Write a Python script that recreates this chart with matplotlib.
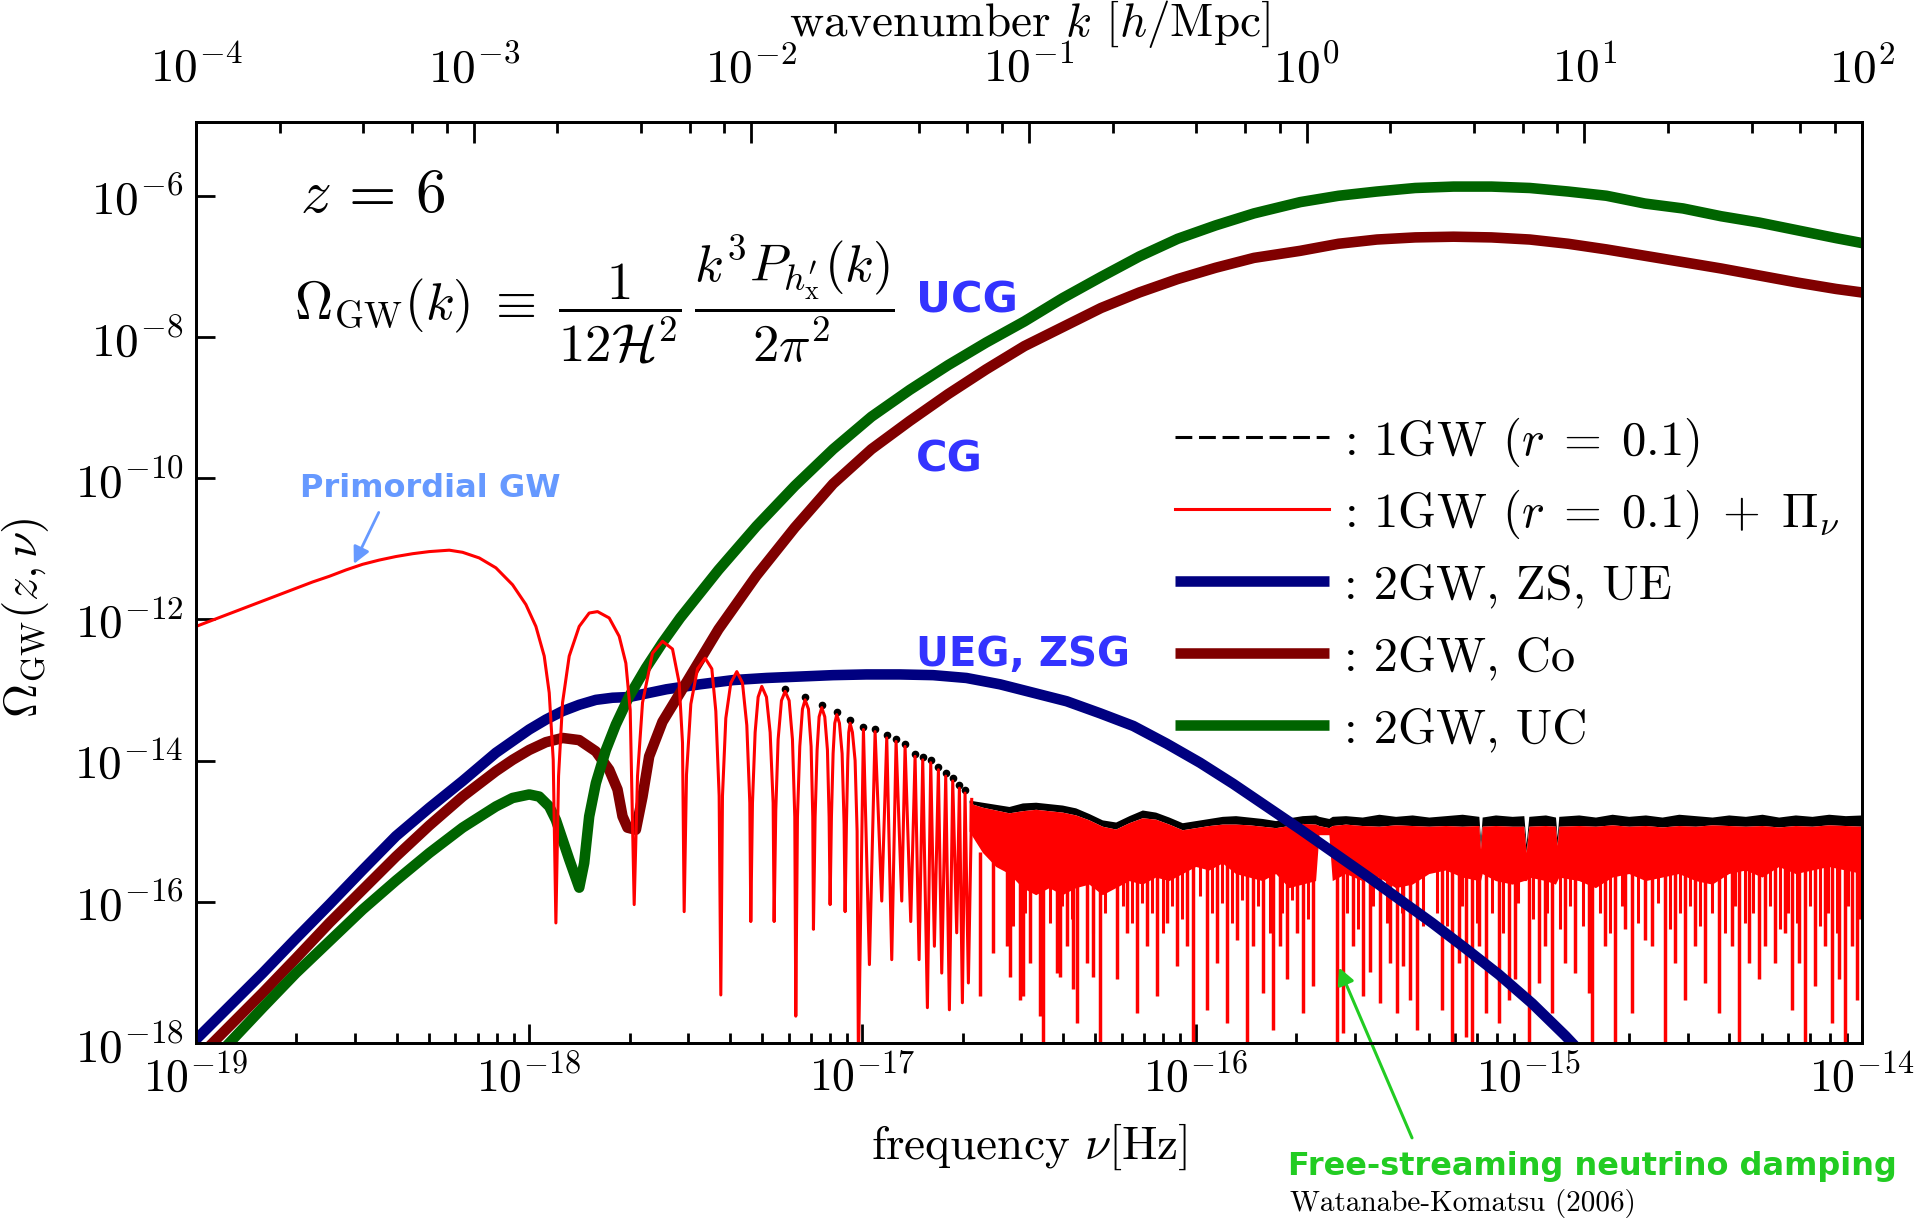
import numpy as np
import matplotlib.pyplot as plt
from matplotlib.ticker import LogLocator, NullLocator

# ---- data (log10 values) ----
# 2GW, ZS, UE (blue)
blue_lognu = [-19.0, -18.9, -18.8, -18.7, -18.6, -18.5, -18.4, -18.3, -18.2, -18.1, -18.0,
              -17.95, -17.9, -17.85, -17.8, -17.75, -17.7, -17.588, -17.488, -17.388, -17.288,
              -17.188, -17.088, -16.988, -16.888, -16.788, -16.688, -16.587, -16.487, -16.387,
              -16.287, -16.187, -16.087, -15.987, -15.887, -15.787, -15.687, -15.587, -15.487,
              -15.387, -15.29, -15.19, -15.09, -14.99, -14.89, -14.85]
blue_logom = [-17.95, -17.48, -17.01, -16.52, -16.04, -15.55, -15.07, -14.67, -14.29, -13.89, -13.56,
              -13.42, -13.30, -13.21, -13.14, -13.11, -13.10, -12.99, -12.92, -12.86, -12.83,
              -12.81, -12.79, -12.78, -12.78, -12.79, -12.83, -12.92, -13.04, -13.16,
              -13.33, -13.51, -13.76, -14.03, -14.33, -14.65, -14.97, -15.30, -15.63,
              -15.97, -16.30, -16.66, -17.03, -17.44, -17.90, -18.10]

# 2GW, Co (maroon)
co_lognu = [-18.95, -18.8, -18.7, -18.6, -18.5, -18.4, -18.3, -18.2, -18.1, -18.05, -18.0,
            -17.95, -17.9, -17.85, -17.8, -17.76, -17.735, -17.72, -17.705, -17.68, -17.66,
            -17.64, -17.6, -17.547, -17.432, -17.318, -17.203, -17.088, -16.973, -16.858,
            -16.743, -16.629, -16.514, -16.399, -16.284, -16.169, -16.054, -15.94, -15.825,
            -15.686, -15.571, -15.456, -15.341, -15.226, -15.112, -14.997, -14.882, -14.767,
            -14.652, -14.537, -14.423, -14.308, -14.193, -14.078, -14.0]
co_logom = [-18.0, -17.29, -16.80, -16.30, -15.83, -15.36, -14.92, -14.51, -14.15, -13.99, -13.85,
            -13.74, -13.68, -13.71, -13.87, -14.13, -14.41, -14.79, -14.95, -14.98, -14.51,
            -13.94, -13.45, -13.04, -12.14, -11.38, -10.70, -10.08, -9.59, -9.19,
            -8.81, -8.46, -8.13, -7.86, -7.59, -7.37, -7.18, -7.02, -6.88,
            -6.78, -6.68, -6.62, -6.59, -6.58, -6.59, -6.62, -6.68, -6.76,
            -6.85, -6.94, -7.03, -7.13, -7.23, -7.32, -7.37]

# 2GW, UC (green)
uc_lognu = [-18.9, -18.8, -18.7, -18.6, -18.5, -18.4, -18.3, -18.2, -18.1, -18.05, -18.0,
            -17.97, -17.94, -17.92, -17.9, -17.88, -17.85, -17.835, -17.82, -17.8, -17.77,
            -17.74, -17.7, -17.65, -17.6, -17.547, -17.432, -17.318, -17.203, -17.088, -16.973,
            -16.858, -16.743, -16.629, -16.514, -16.399, -16.284, -16.169, -16.054, -15.94,
            -15.825, -15.686, -15.571, -15.456, -15.341, -15.226, -15.112, -14.997, -14.882,
            -14.767, -14.652, -14.537, -14.423, -14.308, -14.193, -14.078, -14.0]
uc_logom = [-18.0, -17.50, -17.01, -16.56, -16.11, -15.70, -15.31, -14.95, -14.65, -14.53, -14.48,
            -14.51, -14.65, -14.84, -15.12, -15.40, -15.80, -15.45, -14.79, -14.32, -13.85,
            -13.49, -13.09, -12.69, -12.33, -11.98, -11.30, -10.68, -10.11, -9.59, -9.13,
            -8.75, -8.40, -8.08, -7.78, -7.45, -7.15, -6.86, -6.61, -6.42,
            -6.25, -6.09, -6.00, -5.94, -5.89, -5.87, -5.87, -5.89, -5.94,
            -6.00, -6.11, -6.18, -6.29, -6.38, -6.49, -6.60, -6.67]

# 1GW (r=0.1) + Pi_nu (red), resolved part: plateau and the first oscillations
red_lognu = [
    -19.0, -18.9, -18.8, -18.75, -18.7, -18.65, -18.6, -18.55, -18.5, -18.45, -18.4, -18.35,
    -18.3, -18.24, -18.2, -18.15, -18.1, -18.05, -18.01, -17.98, -17.955, -17.94, -17.928, -17.92,
    -17.912, -17.90, -17.88, -17.85, -17.82, -17.795, -17.76, -17.73, -17.71, -17.697, -17.685,
    -17.675, -17.66, -17.63, -17.60, -17.57, -17.55, -17.54, -17.535,
    -17.528, -17.515, -17.495, -17.472, -17.452, -17.44, -17.43, -17.425,
    -17.42, -17.41, -17.395, -17.377, -17.36, -17.347, -17.338, -17.335,
    -17.33, -17.322, -17.313, -17.302, -17.288, -17.277, -17.268, -17.265,
    -17.26, -17.253, -17.243, -17.232, -17.22, -17.21, -17.203, -17.20,
    -17.195, -17.188, -17.18, -17.172, -17.162, -17.154, -17.149, -17.147,
    -17.142, -17.136, -17.13, -17.122, -17.113, -17.105, -17.10, -17.097,
    -17.093, -17.088, -17.083, -17.077, -17.069, -17.061, -17.055, -17.052,
    -17.048, -17.044, -17.041, -17.037, -17.03, -17.022, -17.016, -17.012,
    -16.997, -16.979, -16.962, -16.942, -16.927, -16.912, -16.899, -16.882, -16.872, -16.855,
    -16.842, -16.83, -16.819, -16.805, -16.795, -16.784, -16.772, -16.762, -16.75, -16.739,
    -16.729, -16.717, -16.709, -16.70, -16.692, -16.682, -16.672]
red_logom = [
    -12.10, -11.92, -11.74, -11.65, -11.56, -11.47, -11.39, -11.30, -11.22, -11.16, -11.11, -11.07,
    -11.04, -11.02, -11.05, -11.13, -11.27, -11.51, -11.79, -12.10, -12.52, -13.04, -13.99, -16.30,
    -14.22, -13.18, -12.52, -12.10, -11.91, -11.89, -11.98, -12.24, -12.62, -13.28, -16.04,
    -14.22, -13.18, -12.48, -12.31, -12.42, -12.90, -13.75, -16.14,
    -14.2, -13.2, -12.7, -12.55, -12.7, -13.3, -14.5, -17.32,
    -14.5, -13.4, -12.9, -12.74, -12.9, -13.5, -14.6, -16.28,
    -14.6, -13.6, -13.1, -12.95, -13.1, -13.6, -14.6, -16.28,
    -14.7, -13.7, -13.15, -13.02, -13.15, -13.7, -14.8, -17.62,
    -14.8, -13.8, -13.27, -13.14, -13.27, -13.8, -14.8, -16.39,
    -14.8, -13.85, -13.38, -13.25, -13.38, -13.85, -14.8, -16.04,
    -14.8, -13.9, -13.47, -13.35, -13.47, -13.9, -14.9, -16.14,
    -14.9, -14.0, -13.6, -13.47, -13.6, -14.0, -15.0, -18.3,
    -13.56, -16.89, -13.59, -15.99, -13.68, -16.82, -13.73, -15.99, -13.80, -16.28,
    -13.94, -16.82, -13.99, -17.50, -14.03, -16.63, -14.13, -17.01, -14.22, -17.53,
    -14.29, -16.44, -14.39, -17.43, -14.46, -17.15, -14.55]

# 1GW (r=0.1) without damping (black), visible only just above the red peaks
black_peak_lognu = [-17.232, -17.172, -17.122, -17.077, -17.037, -16.997, -16.962, -16.927, -16.899,
                    -16.872, -16.842, -16.819, -16.795, -16.772, -16.75, -16.729, -16.709, -16.692]
black_peak_logom = [-12.99, -13.10, -13.21, -13.31, -13.43, -13.52, -13.55, -13.64, -13.69,
                    -13.76, -13.90, -13.95, -13.99, -14.09, -14.18, -14.25, -14.35, -14.42]

# unresolved high-frequency part: red band (top / solid floor) and black envelope
band_lognu = [-16.68, -16.64, -16.60, -16.56, -16.52, -16.48, -16.44, -16.40, -16.36, -16.32,
              -16.28, -16.24, -16.20, -16.16, -16.12, -16.08, -16.04, -16.00, -15.96, -15.92,
              -15.88, -15.84, -15.80, -15.76, -15.72, -15.68, -15.64, -15.63, -15.60, -15.59,
              -15.55, -15.50, -15.45, -15.40, -15.35, -15.30, -15.25, -15.20, -15.15, -15.145,
              -15.14, -15.10, -15.05, -15.015, -15.008, -15.0, -14.95, -14.92, -14.915, -14.91,
              -14.85, -14.80, -14.75, -14.70, -14.65, -14.60, -14.55, -14.50, -14.45, -14.40,
              -14.35, -14.30, -14.25, -14.20, -14.15, -14.10, -14.05, -14.00]
band_top = [-14.60, -14.66, -14.70, -14.74, -14.71, -14.69, -14.71, -14.73, -14.77, -14.84,
            -14.93, -14.97, -14.88, -14.81, -14.83, -14.90, -14.98, -14.95, -14.92, -14.90,
            -14.90, -14.91, -14.93, -14.95, -14.92, -14.89, -14.90, -14.92, -14.95, -14.92,
            -14.90, -14.92, -14.93, -14.91, -14.92, -14.93, -14.92, -14.93, -14.92, -15.25,
            -14.93, -14.92, -14.93, -14.93, -15.30, -14.93, -14.92, -14.93, -15.20, -14.93,
            -14.92, -14.93, -14.91, -14.93, -14.92, -14.94, -14.92, -14.93, -14.91, -14.92,
            -14.93, -14.92, -14.94, -14.92, -14.93, -14.91, -14.92, -14.93]
black_top = [-14.56, -14.59, -14.62, -14.65, -14.60, -14.59, -14.61, -14.63, -14.67, -14.75,
             -14.84, -14.87, -14.78, -14.70, -14.73, -14.80, -14.88, -14.85, -14.82, -14.79,
             -14.78, -14.80, -14.82, -14.85, -14.81, -14.78, -14.77, -14.79, -14.82, -14.79,
             -14.78, -14.80, -14.76, -14.79, -14.77, -14.80, -14.78, -14.76, -14.79, -15.12,
             -14.80, -14.77, -14.79, -14.78, -15.18, -14.79, -14.77, -14.80, -15.08, -14.79,
             -14.77, -14.80, -14.76, -14.79, -14.77, -14.80, -14.76, -14.78, -14.80, -14.77,
             -14.79, -14.76, -14.80, -14.77, -14.79, -14.76, -14.78, -14.77]
band_floor = [-15.0, -15.3, -15.5, -15.6, -15.8, -15.9, -15.8, -15.9, -15.8, -15.75,
              -15.9, -15.8, -15.7, -15.75, -15.65, -15.7, -15.6, -15.5, -15.55, -15.45,
              -15.6, -15.65, -15.7, -15.6, -15.8, -15.75, -15.7, -15.05, -15.05, -15.7,
              -15.6, -15.7, -15.65, -15.8, -15.75, -15.6, -15.55, -15.65, -15.7, -15.7,
              -15.6, -15.7, -15.75, -15.7, -15.7, -15.65, -15.7, -15.75, -15.7, -15.65,
              -15.7, -15.8, -15.65, -15.6, -15.7, -15.65, -15.6, -15.7, -15.75, -15.6,
              -15.55, -15.65, -15.5, -15.6, -15.55, -15.5, -15.55, -15.6]

# long downward spikes below the solid band (position, lowest value)
spike_lognu = [-16.647, -16.607, -16.567, -16.557, -16.527, -16.517, -16.497, -16.467, -16.457,
               -16.417, -16.407, -16.387, -16.367, -16.357, -16.327, -16.307, -16.287, -16.237,
               -16.207, -16.177, -16.147, -16.117, -16.087, -16.057, -16.027, -16.007, -15.967,
               -15.937, -15.907, -15.877, -15.847, -15.827, -15.797, -15.767, -15.747, -15.727,
               -15.697, -15.677, -15.647, -15.577, -15.557, -15.527, -15.497, -15.477, -15.447,
               -15.417, -15.397, -15.377, -15.357, -15.337, -15.26, -15.23, -15.21, -15.19,
               -15.17, -15.15, -15.13, -15.09, -15.06, -15.04, -15.0, -14.97, -14.95, -14.93,
               -14.89, -14.86, -14.82, -14.81, -14.77, -14.74, -14.71, -14.69, -14.65, -14.63,
               -14.59, -14.56, -14.53, -14.50, -14.47, -14.43, -14.39, -14.37, -14.34, -14.31,
               -14.29, -14.26, -14.23, -14.21, -14.19, -14.17, -14.14, -14.11, -14.09, -14.07,
               -14.05, -14.03, -14.015]
spike_logom = [-17.34, -16.73, -16.63, -17.06, -17.39, -17.34, -16.87, -17.62, -18.0,
               -17.01, -17.06, -16.63, -17.24, -17.72, -16.87, -17.06, -18.0, -17.10,
               -16.44, -17.58, -16.63, -17.34, -16.30, -16.91, -16.63, -18.0, -17.53,
               -16.87, -17.72, -16.54, -18.0, -16.63, -17.29, -17.81, -16.63, -17.10,
               -16.44, -17.58, -17.20, -18.0, -17.86, -16.63, -17.34, -17.0, -17.43,
               -16.87, -17.58, -16.91, -17.39, -17.81, -17.53, -18.0, -16.87, -17.91,
               -18.0, -16.63, -17.58, -17.72, -17.39, -17.10, -18.0, -17.15, -16.63, -17.58,
               -16.87, -17.01, -17.29, -18.0, -16.63, -18.0, -16.39, -17.58, -16.54, -16.63,
               -18.0, -16.87, -17.39, -16.63, -17.15, -17.58, -16.63, -18.0, -16.87, -17.10,
               -16.63, -16.87, -16.44, -17.53, -16.87, -18.0, -17.20, -16.63, -17.72, -17.10,
               -18.0, -16.63, -17.39]

# short spikes that make the lower edge of the band ragged
short_spike_lognu = [-16.547, -16.512, -16.437, -16.402, -16.372, -16.307, -16.272, -16.217, -16.192,
                     -16.162, -16.132, -16.097, -16.072, -16.042, -15.987, -15.952, -15.922, -15.892,
                     -15.862, -15.812, -15.777, -15.742, -15.712, -15.662, -15.547, -15.512, -15.467,
                     -15.427, -15.382, -15.317,
                     -15.276, -15.246, -15.201, -15.156, -15.111, -15.076, -15.031, -14.986, -14.946,
                     -14.906, -14.876, -14.836, -14.786, -14.756, -14.721, -14.671, -14.611, -14.576,
                     -14.546, -14.516, -14.486, -14.451, -14.411, -14.381, -14.351, -14.326, -14.276,
                     -14.246, -14.221, -14.196, -14.156, -14.126, -14.101, -14.076, -14.041, -14.006]
short_spike_logom = [-16.35, -16.16, -16.30, -16.06, -16.25, -16.44, -16.16, -16.06, -16.30,
                     -16.02, -16.16, -16.44, -16.06, -16.25, -15.92, -16.16, -16.02, -16.30,
                     -15.97, -16.06, -16.44, -16.16, -15.97, -16.25, -16.16, -16.39, -16.06,
                     -16.30, -16.16, -16.35,
                     -16.16, -16.35, -16.06, -16.30, -16.16, -16.44, -16.02, -16.25, -16.16,
                     -16.39, -16.06, -16.35, -16.16, -16.44, -16.06, -16.30, -16.02, -16.39,
                     -16.16, -16.06, -16.35, -16.16, -16.44, -16.06, -16.30, -16.16, -16.06,
                     -16.39, -16.16, -16.30, -16.06, -16.35, -16.16, -16.44, -16.06, -16.25]

freq_tick_exp = [-19, -18, -17, -16, -15, -14]
k_tick_exp = [-4, -3, -2, -1, 0, 1, 2]
omega_tick_exp = [-18, -16, -14, -12, -10, -8, -6]

legend_labels = [
    r': 1GW $(r\;=\;0.1)$',
    r': 1GW $(r\;=\;0.1)\;+\;\Pi_\nu$',
    ': 2GW, ZS, UE',
    ': 2GW, Co',
    ': 2GW, UC',
]

# ---- style ----
plt.rcParams.update({
    'font.family': 'serif',
    'font.serif': ['cmr10'],
    'mathtext.fontset': 'cm',
    'axes.unicode_minus': False,
    'axes.formatter.use_mathtext': True,
})

C_RED = '#ff0000'
C_BLUE = '#000080'
C_CO = '#800000'
C_UC = '#006400'
LW_THICK = 7.6
LW_THIN = 2.2

legend_styles = [
    dict(color='black', lw=LW_THIN, dashes=(5.5, 2.2)),
    dict(color=C_RED, lw=LW_THIN),
    dict(color=C_BLUE, lw=LW_THICK, solid_capstyle='butt'),
    dict(color=C_CO, lw=LW_THICK, solid_capstyle='butt'),
    dict(color=C_UC, lw=LW_THICK, solid_capstyle='butt'),
]

fig = plt.figure(figsize=(19.2, 12.21), dpi=100)
ax = fig.add_axes([0.1021, 0.1458, 0.8677, 0.7543])

def p(v):
    return 10.0 ** np.asarray(v)

# unresolved band
ax.fill_between(p(band_lognu), p(band_top), p(black_top), color='black', lw=0, zorder=1.5)
ax.fill_between(p(band_lognu), p(band_floor), p(band_top), color=C_RED, lw=0, zorder=2)
ax.vlines(p(spike_lognu), p(spike_logom), 10 ** -15.3, color=C_RED, lw=2.5, zorder=2)
ax.vlines(p(short_spike_lognu), p(short_spike_logom), 10 ** -15.3, color=C_RED, lw=2.2, zorder=2)

# black peaks (1GW) and resolved red curve
ax.plot(p(black_peak_lognu), p(black_peak_logom), ls='none', marker='o', ms=4.5,
        color='black', zorder=1.5)

ax.plot(p(blue_lognu), p(blue_logom), color=C_BLUE, lw=LW_THICK, zorder=3)
ax.plot(p(co_lognu), p(co_logom), color=C_CO, lw=LW_THICK, zorder=3)
ax.plot(p(uc_lognu), p(uc_logom), color=C_UC, lw=LW_THICK, zorder=3)
ax.plot(p(red_lognu), p(red_logom), color=C_RED, lw=LW_THIN, zorder=4)

ax.set_xscale('log')
ax.set_yscale('log')
ax.set_xticks(p(freq_tick_exp))
ax.xaxis.set_minor_locator(LogLocator(base=10, subs=np.arange(2, 10), numticks=12))
ax.set_yticks(p(omega_tick_exp))
ax.yaxis.set_minor_locator(NullLocator())
ax.set_xlim(1e-19, 1e-14)
ax.set_ylim(1e-18, 10 ** -4.955)
ax.tick_params(which='both', direction='in', width=2, right=False, top=False)
ax.tick_params(which='major', length=14)
ax.tick_params(which='minor', length=7)
ax.tick_params(axis='x', pad=8, labelsize=33)
ax.tick_params(axis='y', pad=9, labelsize=34)
for s in ax.spines.values():
    s.set_linewidth(2)

ax.set_xlabel(r'frequency $\nu[\mathrm{Hz}]$', fontsize=34)
ax.xaxis.set_label_coords(0.5, -0.085)
ax.set_ylabel(r'$\Omega_{\rm GW}(z,\nu)$', fontsize=34)
ax.yaxis.set_label_coords(-0.087, 0.461)

# top axis: wavenumber
axt = ax.twiny()
axt.set_xscale('log')
axt.set_xticks(p(k_tick_exp))
axt.xaxis.set_minor_locator(LogLocator(base=10, subs=[2, 4, 6, 8], numticks=12))
axt.set_xlim(1e-4, 1e2)
axt.tick_params(which='both', direction='in', width=2, labelsize=34, pad=22)
axt.tick_params(which='major', length=15)
axt.tick_params(which='minor', length=8)
for s in axt.spines.values():
    s.set_linewidth(2)
axt.set_xlabel(r'wavenumber $k$ $[h/\mathrm{Mpc}]$', fontsize=34)
axt.xaxis.set_label_coords(0.5, 1.093)

# legend, drawn by hand so that the rows are evenly spaced
LEG_X0, LEG_X1, LEG_TX = 0.5876, 0.680, 0.689
LEG_Y0, LEG_DY = 0.658, 0.0782
for i, (sty, lab) in enumerate(zip(legend_styles, legend_labels)):
    y = LEG_Y0 - i * LEG_DY
    ax.plot([LEG_X0, LEG_X1], [y, y], transform=ax.transAxes, **sty)
    ax.text(LEG_TX, y - 0.006, lab, transform=ax.transAxes, fontsize=35, va='center')

# annotations
ax.text(0.0624, 0.9197, r'$z\,=\,6$', transform=ax.transAxes, fontsize=44, va='center')
ax.text(0.0588, 0.8067,
        r'$\Omega_{\rm GW}(k)\;\equiv\;\dfrac{1}{12\mathcal{H}^2}\,'
        r'\dfrac{k^3 P_{h^{\prime}_{\rm x}}(k)}{2\pi^2}$',
        transform=ax.transAxes, fontsize=38, va='center')

lab_kw = dict(transform=ax.transAxes, color='#3333ff', fontweight='bold',
              family='DejaVu Sans', va='center')
ax.text(0.432, 0.806, 'UCG', fontsize=31, **lab_kw)
ax.text(0.432, 0.634, 'CG', fontsize=31, **lab_kw)
ax.text(0.432, 0.421, 'UEG, ZSG', fontsize=29, **lab_kw)

ax.text(0.0624, 0.6015, 'Primordial GW', transform=ax.transAxes, color='#6699ff',
        fontweight='bold', family='DejaVu Sans', fontsize=23, va='center')
ax.annotate('', xy=(10 ** -18.53, 10 ** -11.25), xytext=(10 ** -18.448, 10 ** -10.45),
            arrowprops=dict(arrowstyle='-|>', color='#6699ff', lw=2, mutation_scale=25))

ax.annotate('', xy=(10 ** -15.573, 10 ** -16.895), xytext=(0.736, 0.066),
            textcoords='figure fraction', annotation_clip=False,
            arrowprops=dict(arrowstyle='-|>', color='#22cc22', lw=2.2, mutation_scale=25))
fig.text(0.671, 0.045, 'Free-streaming neutrino damping', color='#22cc22',
         fontweight='bold', family='DejaVu Sans', fontsize=23, va='center')
fig.text(0.672, 0.0147, 'Watanabe-Komatsu (2006)', fontsize=21, va='center')

fig.savefig('out.png', dpi=100)
